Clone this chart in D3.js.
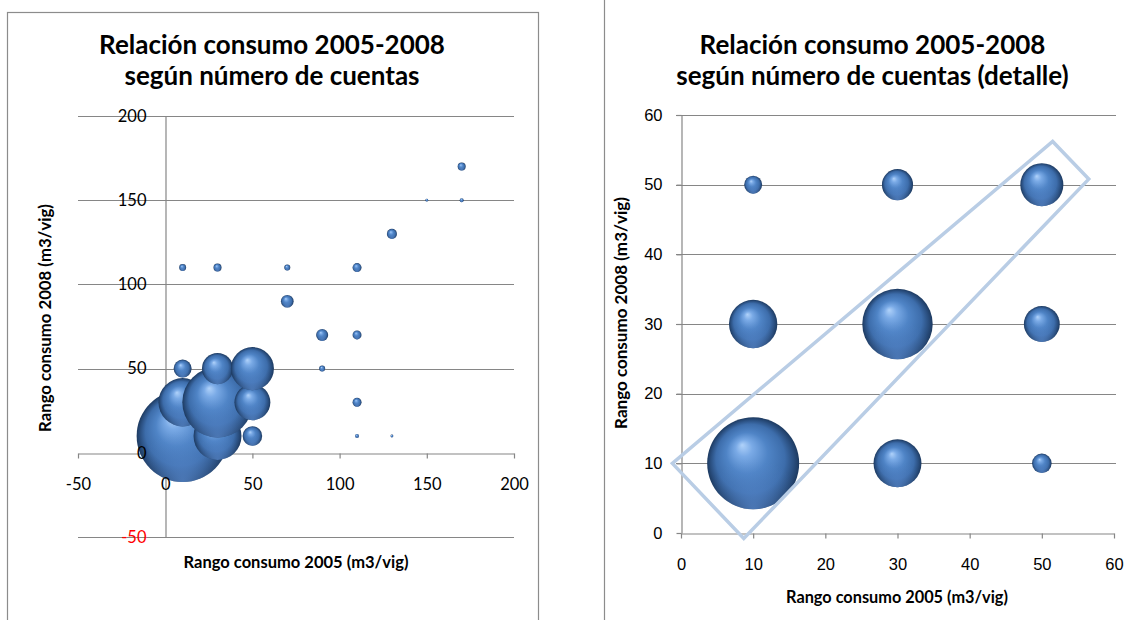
<!DOCTYPE html>
<html>
<head>
<meta charset="utf-8">
<script src="https://cdn.jsdelivr.net/npm/d3@7"></script>
<style>
  html, body { margin: 0; padding: 0; background: #fff; }
  svg { display: block; font-family: Lato, "Noto Sans", sans-serif; }
</style>
</head>
<body>
<script>
// Consumption range 2005 vs 2008 (m3/vig), bubble size = number of accounts.
// Rows ordered by 2005 range, then 2008 range (this is also the drawing order).
const consumo2005 = [10, 10, 10, 10, 30, 30, 30, 30, 50, 50, 50, 70, 70, 90, 90, 110, 110, 110, 110, 130, 130, 150, 170, 170];
const consumo2008 = [10, 30, 50, 110, 10, 30, 50, 110, 10, 30, 50, 90, 110, 50, 70, 10, 30, 70, 110, 10, 130, 150, 150, 170];
const cuentas     = [2100, 580, 80, 12, 570, 1230, 240, 16, 95, 320, 460, 40, 9, 9, 36, 4, 20, 20, 20, 2, 25, 2, 4, 16];

// Axis ticks
const ticksGeneral = [-50, 0, 50, 100, 150, 200];
const ticksDetalle = [0, 10, 20, 30, 40, 50, 60];

// Highlight band on the detail chart (vertices in data units)
const zonaX = [-1.2, 8.7, 56.5, 51.5];
const zonaY = [10, -0.8, 50.8, 56.2];

const tituloGeneral = ["Relación consumo 2005-2008", "según número de cuentas"];
const tituloDetalle = ["Relación consumo 2005-2008", "según número de cuentas (detalle)"];
const ejeX = "Rango consumo 2005 (m3/vig)";
const ejeY = "Rango consumo 2008 (m3/vig)";

const puntos = consumo2005.map((x, i) => ({ x, y: consumo2008[i], n: cuentas[i] }));

const W = 1127, H = 620;
const svg = d3.select("body").append("svg").attr("width", W).attr("height", H);

// Sphere-like shading for the bubbles
const defs = svg.append("defs");
const grad = defs.append("radialGradient").attr("id", "esfera")
  .attr("cx", "50%").attr("cy", "50%").attr("r", "50%").attr("fx", "38%").attr("fy", "30%");
[[0, "#b0d2fa"], [0.18, "#7aaae6"], [0.45, "#4f84c6"], [0.75, "#3d6dab"], [0.9, "#2a4f80"], [1, "#1d3a60"]]
  .forEach(([o, c]) => grad.append("stop").attr("offset", o).attr("stop-color", c));
const rim = defs.append("radialGradient").attr("id", "reflejo")
  .attr("cx", "50%").attr("cy", "100%").attr("r", "55%");
[[0, "#5a8bd0", 0.75], [0.6, "#5a8bd0", 0.25], [1, "#5a8bd0", 0]]
  .forEach(([o, c, a]) => rim.append("stop").attr("offset", o).attr("stop-color", c).attr("stop-opacity", a));

const gris = "#868686";
const radio = d3.scaleSqrt().domain([0, d3.max(cuentas)]).range([0, 46]);
const tamTicks = 16.5;

function ajustar(sel, ancho) {
  const w = sel.node().getComputedTextLength();
  const fs = parseFloat(sel.attr("font-size"));
  sel.attr("font-size", fs * ancho / w);
}

function titulo(g, lineas, cx, ancho) {
  const l1 = g.append("text").attr("x", cx).attr("y", 54)
    .attr("text-anchor", "middle").attr("font-weight", 700).attr("font-size", 26).text(lineas[0]);
  ajustar(l1, ancho);
  g.append("text").attr("x", cx).attr("y", 85)
    .attr("text-anchor", "middle").attr("font-weight", 700).attr("font-size", l1.attr("font-size")).text(lineas[1]);
}

// Axis lines and tick marks (drawn beneath the bubbles)
function lineasEje(g) {
  g.selectAll(".tick text").remove();
  g.select(".domain").attr("stroke", gris).attr("stroke-width", 1.2);
  g.selectAll(".tick line").attr("stroke", gris).attr("stroke-width", 1.2);
}
// Tick labels only (drawn above the bubbles)
function textosEje(g) {
  g.select(".domain").remove();
  g.selectAll(".tick line").remove();
  g.selectAll(".tick text").attr("fill", "#000").attr("font-size", tamTicks)
    .attr("font-family", "Lato, 'Noto Sans', sans-serif");
}

function burbujas(g, datos, x, y) {
  const c = g.selectAll("g.b").data(datos).join("g").attr("class", "b");
  c.append("circle").attr("cx", d => x(d.x)).attr("cy", d => y(d.y)).attr("r", d => radio(d.n))
    .attr("fill", "url(#esfera)");
  c.append("circle").attr("cx", d => x(d.x)).attr("cy", d => y(d.y)).attr("r", d => radio(d.n))
    .attr("fill", "url(#reflejo)");
}

// ---------- General chart ----------
{
  const g = svg.append("g");
  g.append("rect").attr("x", 7.5).attr("y", 12.5).attr("width", 531).attr("height", 640)
    .attr("fill", "#fff").attr("stroke", "#8c8c8c").attr("stroke-width", 1.2);

  const x = d3.scaleLinear().domain([-50, 200]).range([78, 514]);
  const y = d3.scaleLinear().domain([-50, 200]).range([537, 116]);

  g.append("g").selectAll("line").data(ticksGeneral.filter(t => t !== 0)).join("line")
    .attr("x1", x(-50)).attr("x2", x(200))
    .attr("y1", d => Math.round(y(d)) + 0.5).attr("y2", d => Math.round(y(d)) + 0.5)
    .attr("stroke", gris).attr("stroke-width", 1.2);

  const ejeInf = d3.axisBottom(x).tickValues(ticksGeneral).tickSize(5).tickSizeOuter(0)
    .tickPadding(19.6).tickFormat(d => String(d));
  const ejeIzq = d3.axisLeft(y).tickValues(ticksGeneral).tickSize(0).tickSizeOuter(0)
    .tickPadding(19).tickFormat(d => String(d));
  const posX = `translate(0,${Math.round(y(0)) + 0.5})`;
  const posY = `translate(${Math.round(x(0)) + 0.5},0)`;

  g.append("g").attr("transform", posX).call(ejeInf).call(lineasEje);
  g.append("g").attr("transform", posY).call(ejeIzq).call(lineasEje);

  burbujas(g.append("g"), puntos, x, y);

  g.append("g").attr("transform", posX).call(ejeInf).call(textosEje);
  const ay = g.append("g").attr("transform", posY).call(ejeIzq).call(textosEje);
  ay.selectAll(".tick text").filter(d => d < 0).attr("fill", "#ff0000");

  titulo(g, tituloGeneral, 272, 346);
  const tx = g.append("text").attr("x", 296).attr("y", 568).attr("text-anchor", "middle")
    .attr("font-weight", 700).attr("font-size", 15).text(ejeX);
  ajustar(tx, 225);
  const ty = g.append("text").attr("transform", "translate(51,318) rotate(-90)").attr("text-anchor", "middle")
    .attr("font-weight", 700).attr("font-size", 15).text(ejeY);
  ajustar(ty, 228);
}

// ---------- Detail chart ----------
{
  const g = svg.append("g");
  g.append("rect").attr("x", 604.5).attr("y", -10).attr("width", 600).attr("height", 700)
    .attr("fill", "#fff").attr("stroke", "#8c8c8c").attr("stroke-width", 1.2);

  const x = d3.scaleLinear().domain([0, 60]).range([681, 1114]);
  const y = d3.scaleLinear().domain([0, 60]).range([533, 115]);

  g.append("g").selectAll("line").data(ticksDetalle.filter(t => t !== 0)).join("line")
    .attr("x1", x(0) - 5).attr("x2", x(60) + 2)
    .attr("y1", d => Math.round(y(d)) + 0.5).attr("y2", d => Math.round(y(d)) + 0.5)
    .attr("stroke", gris).attr("stroke-width", 1.2);

  const ax = g.append("g").attr("transform", `translate(0,${Math.round(y(0)) + 0.5})`)
    .call(d3.axisBottom(x).tickValues(ticksDetalle).tickSize(5).tickSizeOuter(0)
      .tickPadding(19.6).tickFormat(d => String(d)));
  ax.call(g2 => { g2.select(".domain").attr("stroke", gris).attr("stroke-width", 1.2);
                  g2.selectAll(".tick line").attr("stroke", gris).attr("stroke-width", 1.2); });
  ax.selectAll(".tick text").attr("fill", "#000").attr("font-size", tamTicks);

  const ay = g.append("g").attr("transform", `translate(${Math.round(x(0)) + 0.5},0)`)
    .call(d3.axisLeft(y).tickValues(ticksDetalle).tickSize(5).tickSizeOuter(0)
      .tickPadding(14).tickFormat(d => String(d)));
  ay.call(g2 => { g2.select(".domain").attr("stroke", gris).attr("stroke-width", 1.2);
                  g2.selectAll(".tick line").attr("stroke", gris).attr("stroke-width", 1.2); });
  ay.selectAll(".tick text").attr("fill", "#000").attr("font-size", tamTicks);

  const detalle = puntos.filter(p => p.x <= 60 && p.y <= 60);
  burbujas(g.append("g"), detalle, x, y);

  const zona = zonaX.map((v, i) => [x(v), y(zonaY[i])]);
  g.append("path").attr("d", d3.line()(zona) + "Z")
    .attr("fill", "none").attr("stroke", "#b9cde5").attr("stroke-width", 3.5).attr("stroke-linejoin", "miter");

  titulo(g, tituloDetalle, 872.5, 346);
  const tx = g.append("text").attr("x", 897).attr("y", 603).attr("text-anchor", "middle")
    .attr("font-weight", 700).attr("font-size", 15).text(ejeX);
  ajustar(tx, 222);
  const ty = g.append("text").attr("transform", "translate(627,313) rotate(-90)").attr("text-anchor", "middle")
    .attr("font-weight", 700).attr("font-size", 15).text(ejeY);
  ajustar(ty, 232);
}
</script>
</body>
</html>
